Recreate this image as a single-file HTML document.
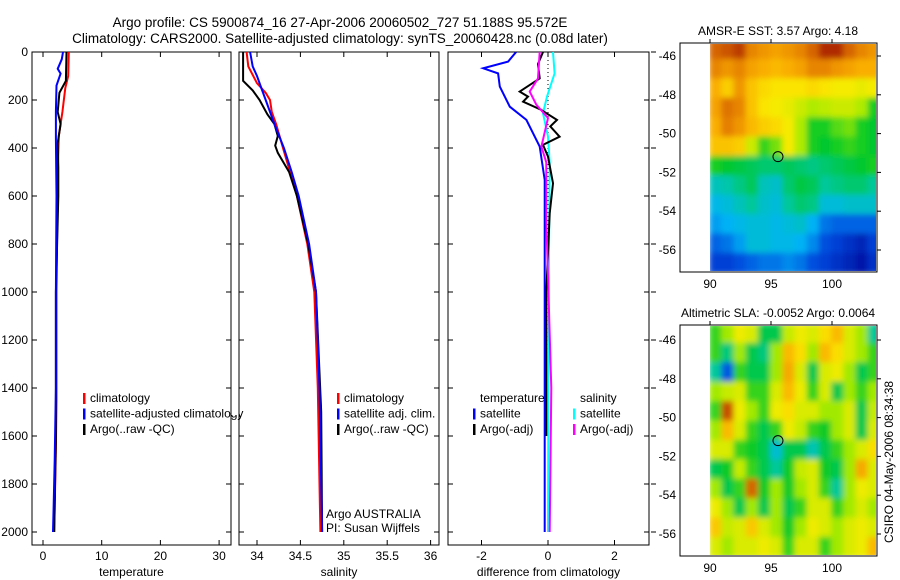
<!DOCTYPE html>
<html><head><meta charset="utf-8"><style>
body{margin:0;background:#fff;}
svg{display:block;font-family:"Liberation Sans",sans-serif;}
</style></head><body>
<svg id="c" width="900" height="580" viewBox="0 0 900 580" xmlns="http://www.w3.org/2000/svg">
<defs>
<filter id="bl" x="0" y="0" width="1" height="1"><feGaussianBlur stdDeviation="3"/></filter>
<clipPath id="cm1"><rect x="710" y="44" width="166" height="227"/></clipPath>
<clipPath id="cm2"><rect x="710" y="326" width="166" height="229"/></clipPath>
</defs>
<text x="340" y="27" font-size="13.5" text-anchor="middle">Argo profile: CS 5900874_16 27-Apr-2006 20060502_727 51.188S 95.572E</text>
<text x="340" y="43" font-size="13.5" text-anchor="middle">Climatology: CARS2000. Satellite-adjusted climatology: synTS_20060428.nc (0.08d later)</text>
<g id="g"></g>
</svg>
<script>
// ---- profile data ----
const tDepth=[0,30,70,90,140,250,360,600,1000,1400,1700,1900,2000];
const tSat=[3.4,3.2,2.5,3.0,2.3,2.2,2.2,2.3,2.2,2.2,2.0,1.8,1.7];
const tClimDepth=[0,100,150,250,350,500,1000,1450,1650,1900,2000];
const tClim=[4.4,4.3,3.8,3.3,2.7,2.5,2.3,2.3,2.2,2.0,1.9];
const tArgoDepth=[0,120,170,250,300,380,480,600,1000,1600,2000];
const tArgo=[4.0,3.9,2.8,2.5,3.0,2.5,2.6,2.6,2.2,2.2,1.9];
const sClimDepth=[0,60,130,170,200,250,300,400,500,600,800,1000,1400,1800,2000];
const sClim=[33.88,33.9,34.0,34.1,34.15,34.17,34.22,34.3,34.38,34.46,34.58,34.66,34.7,34.72,34.73];
const sSatDepth=[0,60,100,150,200,300,400,500,600,800,1000,1400,2000];
const sSat=[33.92,33.95,34.0,34.05,34.1,34.2,34.31,34.4,34.48,34.6,34.68,34.72,34.75];
const sArgoDepth=[0,120,160,200,260,300,350,390,420,500,600,800,1000,1500,2000];
const sArgo=[33.84,33.84,33.95,34.03,34.12,34.2,34.24,34.21,34.24,34.37,34.46,34.59,34.68,34.74,34.75];
const dTSatDepth=[0,40,68,89,144,228,283,394,533,1000,2000];
const dTSat=[-0.96,-1.2,-1.95,-1.5,-1.45,-1.15,-0.65,-0.25,-0.1,-0.1,-0.1];
const dTArgoDepth=[0,50,110,165,186,207,240,283,310,353,387,436,547,672,1000,1600];
const dTArgo=[-0.15,-0.3,-0.25,-0.85,-0.6,-0.75,-0.22,0.27,0.07,0.35,-0.15,0,0.15,0.05,-0.05,-0.05];
const dSSatDepth=[0,89,186,255,353,460,1000,2000];
const dSSat=[0.15,0.2,-0.03,-0.15,0,0.05,0.02,0];
const dSArgoDepth=[0,110,165,220,275,394,460,700,1400,2000];
const dSArgo=[-0.25,-0.3,-0.55,-0.35,0,-0.2,-0.05,-0.05,0.1,0.05];
// ---- map data (1 deg cells, lon 90..104, lat -45.2 downward), normalised colour position ----
const sstGrid=[
[0.9,0.92,0.95,0.85,0.82,0.8,0.82,0.85,0.9,0.97,0.97,0.9,0.85,0.82],
[0.85,0.82,0.85,0.8,0.78,0.76,0.78,0.8,0.85,0.85,0.82,0.8,0.78,0.78],
[0.78,0.72,0.82,0.74,0.7,0.68,0.68,0.68,0.7,0.68,0.66,0.66,0.64,0.66],
[0.8,0.88,0.85,0.74,0.68,0.66,0.64,0.6,0.56,0.58,0.6,0.6,0.56,0.46],
[0.78,0.86,0.82,0.76,0.72,0.7,0.66,0.56,0.46,0.46,0.5,0.52,0.46,0.44],
[0.74,0.74,0.72,0.6,0.48,0.52,0.66,0.56,0.46,0.44,0.46,0.48,0.46,0.44],
[0.46,0.44,0.42,0.4,0.38,0.38,0.4,0.38,0.36,0.38,0.4,0.42,0.44,0.46],
[0.3,0.32,0.36,0.4,0.3,0.28,0.38,0.42,0.4,0.34,0.36,0.38,0.38,0.34],
[0.24,0.26,0.3,0.34,0.28,0.26,0.34,0.38,0.36,0.26,0.26,0.28,0.28,0.28],
[0.2,0.22,0.24,0.26,0.26,0.24,0.26,0.28,0.22,0.16,0.14,0.14,0.14,0.14],
[0.14,0.16,0.2,0.26,0.26,0.24,0.24,0.22,0.18,0.12,0.1,0.08,0.06,0.1],
[0.1,0.1,0.12,0.14,0.16,0.16,0.18,0.16,0.12,0.1,0.08,0.06,0.04,0.08]];
const slaGrid=[
[0.5,0.55,0.62,0.6,0.45,0.45,0.58,0.62,0.6,0.65,0.7,0.6,0.55,0.4],
[0.5,0.42,0.55,0.45,0.42,0.55,0.7,0.65,0.55,0.7,0.65,0.6,0.55,0.5],
[0.4,0.25,0.5,0.45,0.45,0.55,0.72,0.6,0.45,0.6,0.62,0.55,0.45,0.5],
[0.55,0.58,0.6,0.5,0.5,0.6,0.7,0.62,0.5,0.6,0.45,0.55,0.5,0.55],
[0.5,0.82,0.62,0.55,0.5,0.62,0.65,0.6,0.6,0.55,0.55,0.6,0.45,0.58],
[0.55,0.7,0.6,0.5,0.45,0.5,0.62,0.58,0.5,0.48,0.55,0.6,0.45,0.6],
[0.6,0.6,0.5,0.48,0.45,0.35,0.45,0.45,0.38,0.45,0.5,0.55,0.6,0.65],
[0.45,0.48,0.58,0.5,0.45,0.4,0.48,0.58,0.6,0.48,0.45,0.55,0.72,0.6],
[0.55,0.45,0.5,0.8,0.48,0.55,0.48,0.55,0.6,0.5,0.4,0.55,0.62,0.6],
[0.62,0.55,0.45,0.55,0.45,0.55,0.45,0.5,0.6,0.6,0.5,0.55,0.6,0.55],
[0.68,0.58,0.6,0.68,0.6,0.55,0.48,0.55,0.62,0.6,0.55,0.6,0.62,0.6],
[0.6,0.55,0.6,0.6,0.62,0.6,0.5,0.6,0.6,0.5,0.55,0.6,0.62,0.7]];
const depthTicks=[0,200,400,600,800,1000,1200,1400,1600,1800,2000];
const tTicks=[0,10,20,30];
const sTicks=[34,34.5,35,35.5,36];
const sTickLabels=["34","34.5","35","35.5","36"];
const dTicks=[-2,0,2];
const latTicks=[-46,-48,-50,-52,-54,-56];
const lonTicks=[90,95,100];
const argoLon=95.572, argoLat=-51.188;

const NS='http://www.w3.org/2000/svg';
const G=document.getElementById('g');
function mk(tag,attrs,parent){const e=document.createElementNS(NS,tag);for(const k in attrs)e.setAttribute(k,attrs[k]);(parent||G).appendChild(e);return e;}
const yD=d=>52+d*0.24;
const xT=v=>43+v*5.87;
const xS=v=>257+(v-34)*86.8;
const xDf=v=>548+v*33.25;

function panel(name,x0,x1,xf,ticks,labels,xlabel){
  const r=mk('rect',{x:x0,y:52,width:x1-x0,height:493,fill:'none',stroke:'#000','stroke-width':1});
  
  
  ticks.forEach((t,i)=>{
    const x=xf(t);
    const tk=mk('path',{d:`M${x},52v5M${x},545v-5`,stroke:'#000'});
    
    
    const l=mk('text',{x:x,y:560,'font-size':12,'text-anchor':'middle'});
    l.textContent=labels[i];
    
    
  });
  depthTicks.forEach(d=>{
    const y=yD(d);
    const tk=mk('path',{d:`M${x0},${y}h5M${x1},${y}h-5`,stroke:'#000'});
    
    
  });
  const xl=mk('text',{x:(x0+x1)/2,y:576,'font-size':12,'text-anchor':'middle'});
  xl.textContent=xlabel;
  
  
}
panel('temperature-panel',32,231,xT,tTicks,tTicks.map(String),'temperature');
panel('salinity-panel',239,439,xS,sTicks,sTickLabels,'salinity');
panel('difference-panel',448,649,xDf,dTicks,dTicks.map(String),'difference from climatology');
depthTicks.forEach(d=>{
  const l=mk('text',{x:28,y:yD(d)+4,'font-size':12,'text-anchor':'end'});
  l.textContent=String(d);
  
  
  const tk=mk('path',{d:`M651,${yD(d)}h5`,stroke:'#000'});
  
  
});
const zl=mk('path',{d:`M${xDf(0)},52V${yD(2000)}`,stroke:'#000','stroke-dasharray':'1,3'});



function line(name,depths,vals,xf,color,w){
  const p=mk('path',{d:depths.map((d,i)=>(i?'L':'M')+xf(vals[i]).toFixed(1)+','+yD(d).toFixed(1)).join(''),fill:'none',stroke:color,'stroke-width':w||2});
  
  
}
line('temp-climatology-line',tClimDepth,tClim,xT,'#f00');
line('temp-argo-line',tArgoDepth,tArgo,xT,'#000');
line('temp-satellite-line',tDepth,tSat,xT,'#00f');
line('sal-climatology-line',sClimDepth,sClim,xS,'#f00');
line('sal-argo-line',sArgoDepth,sArgo,xS,'#000');
line('sal-satellite-line',sSatDepth,sSat,xS,'#00f');
line('diff-temp-satellite-line',dTSatDepth,dTSat,xDf,'#00f');
line('diff-sal-satellite-line',dSSatDepth,dSSat,xDf,'#0ff');
line('diff-temp-argo-line',dTArgoDepth,dTArgo,xDf,'#000');
line('diff-sal-argo-line',dSArgoDepth,dSArgo,xDf,'#f0f');

function legend(name,x,y,items){
  items.forEach((it,i)=>{
    const yy=y+i*15.5;
    if(it[1]){const b=mk('rect',{x:x,y:yy-9,width:2.5,height:11,fill:it[1]});
      
      }
    const t=mk('text',{x:x+7,y:yy,'font-size':12});
    t.textContent=it[0];
    
    
  });
}
legend('temp-legend',83,402,[['climatology','#f00'],['satellite-adjusted climatology','#00f'],['Argo(..raw -QC)','#000']]);
legend('sal-legend',337,402,[['climatology','#f00'],['satellite adj. clim.','#00f'],['Argo(..raw -QC)','#000']]);
legend('diff-temp-legend',473,402,[['temperature',null],['satellite','#00f'],['Argo(-adj)','#000']]);
legend('diff-sal-legend',573,402,[['salinity',null],['satellite','#0ff'],['Argo(-adj)','#f0f']]);
[['Argo AUSTRALIA',518],['PI: Susan Wijffels',532]].forEach(a=>{
  const t=mk('text',{x:326,y:a[1],'font-size':12});t.textContent=a[0];
  
  
});
const cov=mk('rect',{x:231.5,y:395,width:7,height:20,fill:'#fff'});


mk('path',{d:'M231,395v20M239,395v20',stroke:'#000'});

const cmapStops=[[0,0,140],[0,70,220],[0,180,245],[0,200,160],[0,200,40],[170,235,0],[250,235,0],[250,175,0],[220,110,0],[160,20,0]];
function cmap(v){
  v=Math.max(0,Math.min(1,v))*(cmapStops.length-1);
  const i=Math.min(cmapStops.length-2,Math.floor(v)),f=v-i;
  const a=cmapStops[i],b=cmapStops[i+1];
  return `rgb(${a.map((c,k)=>Math.round(c+(b[k]-c)*f)).join(',')})`;
}
function map(name,top,h,lat46y,grid,title,clip,norm){
  const xL=v=>710+(v-90)*12.2;
  const yL=v=>lat46y+(-46-v)*19.4;
  const gg=mk('g',{'clip-path':`url(#${clip})`});
  const inner=mk('g',{filter:'url(#bl)'},gg);
  grid.forEach((row,i)=>row.forEach((v,j)=>{
    const c=mk('rect',{x:xL(90+j)-1,y:yL(-45.2-i)-1,width:14.2,height:21.4,fill:cmap(norm(v))},inner);
    
    
  }));
  const fr=mk('rect',{x:680,y:top,width:197,height:h,fill:'none',stroke:'#000'});
  
  
  latTicks.forEach(l=>{
    const y=yL(l);
    mk('path',{d:`M877,${y}h4`,stroke:'#000'});
    const t=mk('text',{x:676,y:y+4,'font-size':12,'text-anchor':'end'});t.textContent=String(l);
    
    
  });
  lonTicks.forEach(l=>{
    const x=xL(l);
    mk('path',{d:`M${x},${top}v-4`,stroke:'#000'});
    const t=mk('text',{x:x,y:top+h+16,'font-size':12,'text-anchor':'middle'});t.textContent=String(l);
    
    
  });
  const ci=mk('circle',{cx:xL(argoLon),cy:yL(argoLat),r:5,fill:'none',stroke:'#000'});
  
  
  const tt=mk('text',{x:778,y:top-8,'font-size':12,'text-anchor':'middle'});tt.textContent=title;
  
  
}
map('sst-map',43,229,56,sstGrid,'AMSR-E SST: 3.57 Argo: 4.18','cm1',v=>v);
map('sla-map',325,231,340,slaGrid,'Altimetric SLA: -0.0052 Argo: 0.0064','cm2',v=>0.55+(v-0.55)*1.4);
const st=mk('text',{x:0,y:0,'font-size':12,'text-anchor':'middle',transform:'translate(893,462) rotate(-90)'});
st.textContent='CSIRO 04-May-2006 08:34:38';


</script>
</body></html>
